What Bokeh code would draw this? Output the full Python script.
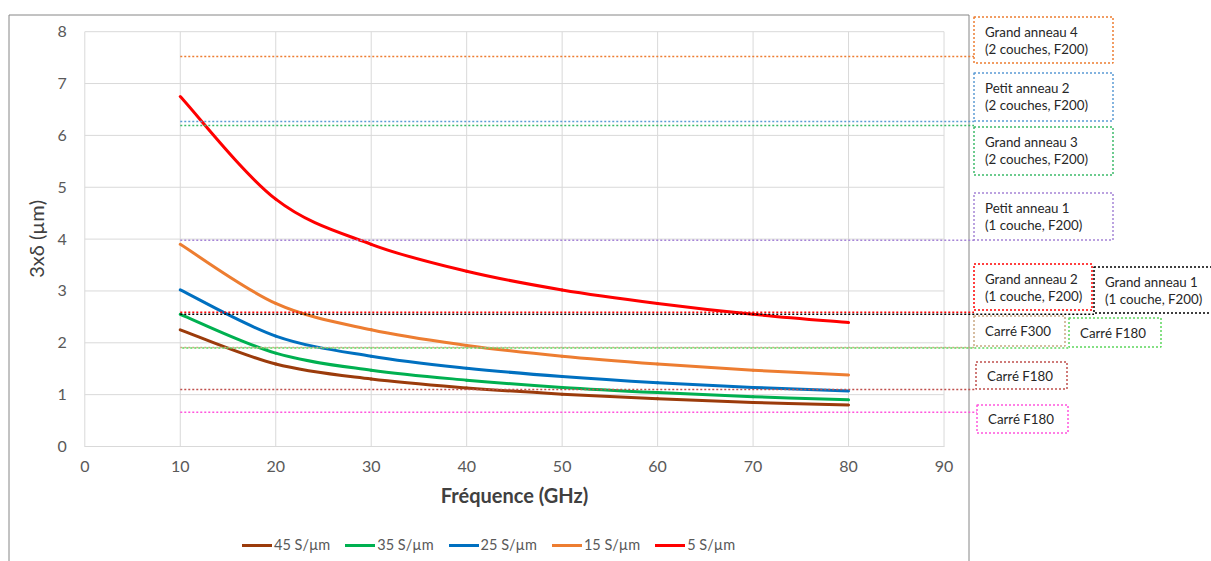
from bokeh.plotting import figure
from bokeh.models import Range1d, LinearAxis, FixedTicker, Legend, LegendItem
from bokeh.core.properties import value
from bokeh.embed import file_html
from bokeh.resources import INLINE

# ---------------- data ----------------
freq = [10, 20, 30, 40, 50, 60, 70, 80]
series_names = ["45 S/µm", "35 S/µm", "25 S/µm", "15 S/µm", "5 S/µm"]
s45 = [2.25, 1.59, 1.30, 1.13, 1.01, 0.92, 0.85, 0.80]
s35 = [2.55, 1.80, 1.47, 1.28, 1.14, 1.04, 0.96, 0.90]
s25 = [3.02, 2.13, 1.74, 1.51, 1.35, 1.23, 1.14, 1.07]
s15 = [3.90, 2.76, 2.25, 1.95, 1.74, 1.59, 1.47, 1.38]
s05 = [6.75, 4.77, 3.90, 3.38, 3.02, 2.76, 2.55, 2.39]
series_values = [s45, s35, s25, s15, s05]

xticks = [0, 10, 20, 30, 40, 50, 60, 70, 80, 90]
yticks = [0, 1, 2, 3, 4, 5, 6, 7, 8]
x_title = "Fréquence (GHz)"
y_title = "3xδ (µm)"

ref_line1 = ["Grand anneau 4", "Petit anneau 2", "Grand anneau 3", "Petit anneau 1",
             "Grand anneau 2", "Grand anneau 1", "Carré F300", "Carré F180",
             "Carré F180", "Carré F180"]
ref_line2 = ["(2 couches, F200)", "(2 couches, F200)", "(2 couches, F200)", "(1 couche, F200)",
             "(1 couche, F200)", "(1 couche, F200)", "", "", "", ""]
ref_values = [7.52, 6.27, 6.19, 3.98, 2.59, 2.55, 1.91, 1.90, 1.10, 0.66]
ref_start = 10

# ---------------- styles / layout (pixels in the 1211x561 picture) ----------------
series_colors = ["#9b3b0b", "#00b050", "#0070c0", "#ed7d31", "#ff0000"]
ref_colors = ["#ed7d31", "#5b9bd5", "#3cba6a", "#a584d6", "#ff0000", "#000000",
              "#c9a882", "#5cd65c", "#c0504d", "#ff55dd"]
ref_dash_offset = [0, 0, 0, 0, 0, 0, 0, 2, 0, 0]
# box: left, right, top, bottom (picture pixels)
ref_box = [(973.5, 1112.5, 16.5, 62.5), (973.5, 1112.5, 72.5, 120.5), (973.5, 1112.5, 126.5, 174.5),
           (973.5, 1112.5, 192.5, 239.5), (973.5, 1091.5, 263.5, 309.5), (1093.5, 1216, 266.5, 312.5),
           (973.5, 1064.5, 315.5, 345.5), (1068.5, 1160.5, 317.5, 346.5), (975.5, 1066.5, 361.5, 388.5),
           (976.5, 1067.5, 404.5, 432.5)]

W, H = 1211, 561
X0_PX, X_SCALE = 84.3, 9.547
Y0_PX, Y_SCALE = 446.0, 51.85


def dx(px):
    return (px - X0_PX) / X_SCALE


def dy(py):
    return (Y0_PX - py) / Y_SCALE


FONT = "Lato"

p = figure(width=W, height=H,
           x_range=Range1d(dx(0), dx(W)),
           y_range=Range1d(dy(H), dy(0)),
           x_axis_type=None, y_axis_type=None,
           output_backend="svg", toolbar_location=None, title=None,
           min_border=0)
p.outline_line_color = None
p.background_fill_color = "white"
p.border_fill_color = "white"

# outer chart border
p.line(x=[dx(8.5), dx(8.5), dx(968.5), dx(968.5)], y=[dy(570), dy(14.5), dy(14.5), dy(570)],
       line_color="#868686", line_width=1)

# grid
p.segment(x0=xticks, y0=[yticks[0]] * len(xticks), x1=xticks, y1=[yticks[-1]] * len(xticks),
          line_color="#d9d9d9", line_width=1)
p.segment(x0=[xticks[0]] * len(yticks), y0=yticks, x1=[xticks[-1]] * len(yticks), y1=yticks,
          line_color="#d9d9d9", line_width=1)

# axes
xaxis = LinearAxis(fixed_location=0, ticker=FixedTicker(ticks=xticks), bounds=(xticks[0], xticks[-1]),
                   axis_line_color="#d9d9d9", major_tick_line_color=None, minor_tick_line_color=None,
                   major_label_text_font=FONT, major_label_text_font_size="16px",
                   major_label_text_color="#595959", major_label_standoff=8,
                   axis_label=x_title, axis_label_text_font=FONT, axis_label_text_font_style="bold",
                   axis_label_text_font_size="20px", axis_label_text_color="#404040",
                   axis_label_standoff=8)
p.add_layout(xaxis, "below")
yaxis = LinearAxis(fixed_location=0, ticker=FixedTicker(ticks=yticks), bounds=(yticks[0], yticks[-1]),
                   axis_line_color=None, major_tick_line_color=None, minor_tick_line_color=None,
                   major_label_text_font=FONT, major_label_text_font_size="16px",
                   major_label_text_color="#595959", major_label_standoff=12,
                   axis_label=y_title, axis_label_text_font=FONT, axis_label_text_font_style="normal",
                   axis_label_text_font_size="20px", axis_label_text_color="#404040",
                   axis_label_standoff=6)
p.add_layout(yaxis, "left")


# smoothed curves (Catmull-Rom style cubic Bezier through the data points)
def bezier_parts(xs, ys):
    n = len(xs)
    out = {k: [] for k in ("x0", "y0", "x1", "y1", "cx0", "cy0", "cx1", "cy1")}
    for i in range(n - 1):
        im1 = max(i - 1, 0)
        ip2 = min(i + 2, n - 1)
        out["x0"].append(xs[i]); out["y0"].append(ys[i])
        out["x1"].append(xs[i + 1]); out["y1"].append(ys[i + 1])
        out["cx0"].append(xs[i] + (xs[i + 1] - xs[im1]) / 6.0)
        out["cy0"].append(ys[i] + (ys[i + 1] - ys[im1]) / 6.0)
        out["cx1"].append(xs[i + 1] - (xs[ip2] - xs[i]) / 6.0)
        out["cy1"].append(ys[i + 1] - (ys[ip2] - ys[i]) / 6.0)
    return out


items = []
for name, vals, col in zip(series_names, series_values, series_colors):
    r = p.bezier(line_color=col, line_width=3, line_cap="round", **bezier_parts(freq, vals))
    items.append(LegendItem(label=name, renderers=[r]))

# reference levels (dotted) and their labelled boxes
for val, col, off, box, t1, t2 in zip(ref_values, ref_colors, ref_dash_offset, ref_box, ref_line1, ref_line2):
    left, right, top, bottom = box
    p.line(x=[ref_start, dx(left)], y=[val, val], line_color=col, line_width=1.5,
           line_dash="2 2", line_dash_offset=off)
    p.quad(left=[dx(left)], right=[dx(right)], top=[dy(top)], bottom=[dy(bottom)],
           fill_alpha=0, line_color=col, line_width=1.5, line_dash="2 2")
    if t2:
        p.text(x=[dx(left + 11)] * 2, y=[dy(top + 14.5), dy(top + 31.5)], text=[t1, t2],
               text_font=value(FONT), text_font_size="13.3px", text_color="#262626",
               text_baseline="middle", text_align="left")
    else:
        p.text(x=[dx(left + 11)], y=[dy((top + bottom) / 2)], text=[t1],
               text_font=value(FONT), text_font_size="13.3px", text_color="#262626",
               text_baseline="middle", text_align="left")

legend = Legend(items=items, orientation="horizontal", location=(242, 8),
                glyph_width=30, glyph_height=16, label_height=16, label_standoff=2, spacing=15,
                padding=0, margin=0, border_line_color=None, background_fill_alpha=0,
                label_text_font=FONT, label_text_font_size="14.5px", label_text_color="#595959")
p.add_layout(legend)

open("out.html", "w").write(file_html(p, INLINE))
